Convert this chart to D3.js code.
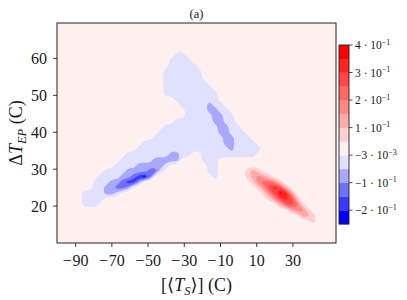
<!DOCTYPE html>
<html><head><meta charset="utf-8">
<script src="https://cdn.jsdelivr.net/npm/d3@7"></script>
<style>
body{margin:0;background:#fff;}
svg{display:block;}
text{font-family:"Liberation Serif","DejaVu Serif",serif;fill:#1a1a1a;}
</style>
</head><body>
<svg id="chart" width="407" height="300"></svg>
<script>
// ---------------- data ----------------
const xTicks = [-90, -70, -50, -30, -10, 10, 30];
const yTicks = [20, 30, 40, 50, 60];
const xDomain = [-100.3, 53.8];
const yDomain = [10, 69.6];
// contour levels (filled bands)
const levels = [-0.253, -0.203, -0.153, -0.103, -0.053, -0.003, 0.047, 0.097, 0.147, 0.197, 0.247, 0.297, 0.347, 0.397];
// value for each band code (-5..7), estimated
const codeValues = [-0.228, -0.178, -0.128, -0.078, -0.028, 0.022, 0.072, 0.122, 0.172, 0.222, 0.272, 0.322, 0.372];
// colorbar ticks
const cbTicks = [-0.203, -0.103, -0.003, 0.097, 0.197, 0.297, 0.397];
const cbTickMant = ["\u22122", "\u22121", "\u22123", "1", "2", "3", "4"];
const cbTickExp = ["\u22121", "\u22121", "\u22123", "\u22121", "\u22121", "\u22121", "\u22121"];
// density-difference grid (x from -100 step 3, y from 70 step -1.5)
const gridCols = 52, gridRows = 41;
const gridXStart = -100, gridXStep = 3;
const gridYStart = 70, gridYStep = -1.5;
// [row, colStart, colEnd, bandCode]  (background code 0 elsewhere)
const cellRuns = [
  [6,22,23,-1],
  [7,21,24,-1],
  [8,21,25,-1],
  [9,20,26,-1],
  [10,20,26,-1],
  [11,20,27,-1],
  [12,20,28,-1],
  [13,20,29,-1],
  [14,22,29,-1],
  [15,23,30,-1],[15,28,28,-2],
  [16,24,31,-1],[16,28,29,-2],
  [17,24,32,-1],[17,29,30,-2],
  [18,22,32,-1],[18,29,30,-2],
  [19,20,33,-1],[19,30,31,-2],
  [20,19,34,-1],[20,30,31,-2],
  [21,18,35,-1],[21,31,32,-2],
  [22,16,36,-1],[22,31,32,-2],
  [23,15,37,-1],[23,32,32,-2],
  [24,13,24,-1],[24,27,36,-1],[24,21,22,-2],
  [25,12,22,-1],[25,27,29,-1],[25,18,22,-2],
  [26,11,20,-1],[26,28,29,-1],[26,15,19,-2],
  [27,9,19,-1],[27,28,29,-1],[27,13,16,-2],[27,17,18,-3],
  [28,8,11,-1],[28,29,29,-1],[28,12,13,-2],[28,14,14,-3],[28,15,15,-4],[28,16,16,-5],[28,17,17,-3],
  [29,7,9,-1],[29,10,11,-2],[29,12,12,-3],[29,13,14,-4],[29,15,15,-2],
  [30,7,8,-1],[30,9,10,-2],[30,11,12,-3],[30,13,13,-2],
  [31,5,8,-1],[31,9,10,-2],[31,11,11,-1],
  [32,5,8,-1],
  [33,5,7,-1],
  // red blob
  [27,35,37,1],[27,36,36,2],
  [28,35,35,1],[28,36,36,2],[28,37,37,3],[28,38,38,2],[28,39,39,1],
  [29,36,36,1],[29,37,37,3],[29,38,39,4],[29,40,40,3],[29,41,41,1],
  [30,37,37,1],[30,38,38,3],[30,39,39,5],[30,40,40,6],[30,41,41,5],[30,42,42,2],
  [31,38,38,1],[31,39,39,3],[31,40,40,5],[31,41,41,7],[31,42,42,6],[31,43,43,3],
  [32,39,39,1],[32,40,40,3],[32,41,41,5],[32,42,42,6],[32,43,43,5],[32,44,44,2],
  [33,41,41,2],[33,42,42,4],[33,43,43,5],[33,44,44,4],[33,45,45,1],
  [34,43,43,2],[34,44,45,3],[34,46,46,1],
  [35,45,46,2],[35,47,47,1],
  [36,47,47,1]
];

// ---------------- layout ----------------
const plot = {left: 57, right: 336, top: 23, bottom: 243};
const cb = {left: 339, right: 349, top: 45, bottom: 224};

const svg = d3.select("#chart");
const x = d3.scaleLinear().domain(xDomain).range([plot.left, plot.right]);
const y = d3.scaleLinear().domain(yDomain).range([plot.bottom, plot.top]);
const color = d3.scaleLinear()
  .domain([d3.min(codeValues), 0, d3.max(codeValues)])
  .range(["#0000ff", "#ffffff", "#ff0000"]);
const bandColor = d3.range(levels.length - 1).map(k => color((levels[k] + levels[k + 1]) / 2));

// build grid
const values = new Array(gridCols * gridRows).fill(codeValues[5]);
cellRuns.forEach(([r, j0, j1, c]) => {
  for (let j = j0; j <= j1; j++) values[r * gridCols + j] = codeValues[c + 5];
});

const contours = d3.contours().size([gridCols, gridRows]).thresholds(levels.slice(0, -1))(values);
const gx2px = u => x(gridXStart + (u - 0.5) * gridXStep);
const gy2px = v => y(gridYStart + (v - 0.5) * gridYStep);
const ringLine = d3.line().curve(d3.curveBasisClosed);
function smoothPath(geom) {
  let s = "";
  geom.coordinates.forEach(poly => poly.forEach(ring => {
    const pts = ring.slice(0, -1).map(([u, v]) => [gx2px(u), gy2px(v)]);
    if (pts.length > 2) s += ringLine(pts);
  }));
  return s;
}

svg.append("clipPath").attr("id", "clip").append("rect")
  .attr("x", plot.left).attr("y", plot.top)
  .attr("width", plot.right - plot.left).attr("height", plot.bottom - plot.top);

const gPlot = svg.append("g").attr("clip-path", "url(#clip)");
gPlot.append("rect").attr("x", plot.left).attr("y", plot.top)
  .attr("width", plot.right - plot.left).attr("height", plot.bottom - plot.top)
  .attr("fill", bandColor[5]);
gPlot.selectAll("path").data(contours).join("path")
  .attr("d", smoothPath)
  .attr("fill-rule", "evenodd")
  .attr("fill", (d, i) => bandColor[i])
  .attr("stroke", "none");

// frame
svg.append("rect").attr("x", plot.left).attr("y", plot.top)
  .attr("width", plot.right - plot.left).attr("height", plot.bottom - plot.top)
  .attr("fill", "none").attr("stroke", "#222").attr("stroke-width", 1);

// x axis
const gx = svg.append("g");
gx.selectAll("line").data(xTicks).join("line")
  .attr("x1", d => x(d)).attr("x2", d => x(d))
  .attr("y1", plot.bottom).attr("y2", plot.bottom + 4)
  .attr("stroke", "#222").attr("stroke-width", 0.9);
const xt = gx.selectAll("text").data(xTicks).join("text")
  .attr("x", d => x(d)).attr("y", 266)
  .attr("text-anchor", "middle").attr("font-size", 16);
xt.filter(d => d < 0).append("tspan").text("\u2212");
xt.append("tspan").attr("dx", d => d < 0 ? 0.8 : 0).text(d => String(Math.abs(d)));

// y axis
const gy = svg.append("g");
gy.selectAll("line").data(yTicks).join("line")
  .attr("x1", plot.left - 4).attr("x2", plot.left)
  .attr("y1", d => y(d)).attr("y2", d => y(d))
  .attr("stroke", "#222").attr("stroke-width", 0.9);
gy.selectAll("text").data(yTicks).join("text")
  .attr("x", 47).attr("y", d => y(d) + 5.5)
  .attr("text-anchor", "end").attr("font-size", 16)
  .text(d => String(d));

// axis labels
const xl = svg.append("text").attr("x", (plot.left + plot.right) / 2).attr("y", 291)
  .attr("text-anchor", "middle").attr("font-size", 18);
xl.append("tspan").text("[\u27E8");
xl.append("tspan").attr("font-style", "italic").text("T");
xl.append("tspan").attr("font-style", "italic").attr("font-size", 12.5).attr("dy", 3.5).text("S");
xl.append("tspan").attr("dy", -3.5).text("\u27E9] (C)");

const yl = svg.append("text")
  .attr("transform", `translate(22,${(plot.top + plot.bottom) / 2}) rotate(-90)`)
  .attr("text-anchor", "middle").attr("font-size", 18);
yl.append("tspan").text("\u0394");
yl.append("tspan").attr("font-style", "italic").text("T");
yl.append("tspan").attr("font-style", "italic").attr("font-size", 12.5).attr("dy", 3.5).text("EP");
yl.append("tspan").attr("dy", -3.5).text(" (C)");

// title
svg.append("text").attr("x", (plot.left + plot.right) / 2).attr("y", 17.5)
  .attr("text-anchor", "middle").attr("font-size", 12.5).text("(a)");

// colorbar
const cy = d3.scaleLinear().domain([levels[0], levels[levels.length - 1]]).range([cb.bottom, cb.top]);
svg.append("g").selectAll("rect").data(d3.range(levels.length - 1)).join("rect")
  .attr("x", cb.left).attr("width", cb.right - cb.left)
  .attr("y", k => cy(levels[k + 1])).attr("height", k => cy(levels[k]) - cy(levels[k + 1]) + 0.3)
  .attr("fill", k => bandColor[k]);
svg.append("rect").attr("x", cb.left).attr("y", cb.top)
  .attr("width", cb.right - cb.left).attr("height", cb.bottom - cb.top)
  .attr("fill", "none").attr("stroke", "#222").attr("stroke-width", 0.9);
const gc = svg.append("g");
gc.selectAll("line").data(cbTicks).join("line")
  .attr("x1", cb.right).attr("x2", cb.right + 3.5)
  .attr("y1", d => cy(d)).attr("y2", d => cy(d))
  .attr("stroke", "#222").attr("stroke-width", 0.8);
const ct = gc.selectAll("text").data(cbTicks).join("text")
  .attr("x", 355).attr("y", d => cy(d) + 4).attr("font-size", 11.5);
ct.append("tspan").text((d, i) => cbTickMant[i] + " \u00B7 10");
ct.append("tspan").attr("font-size", 8).attr("dy", -4.5).text((d, i) => cbTickExp[i]);
</script>
</body></html>
